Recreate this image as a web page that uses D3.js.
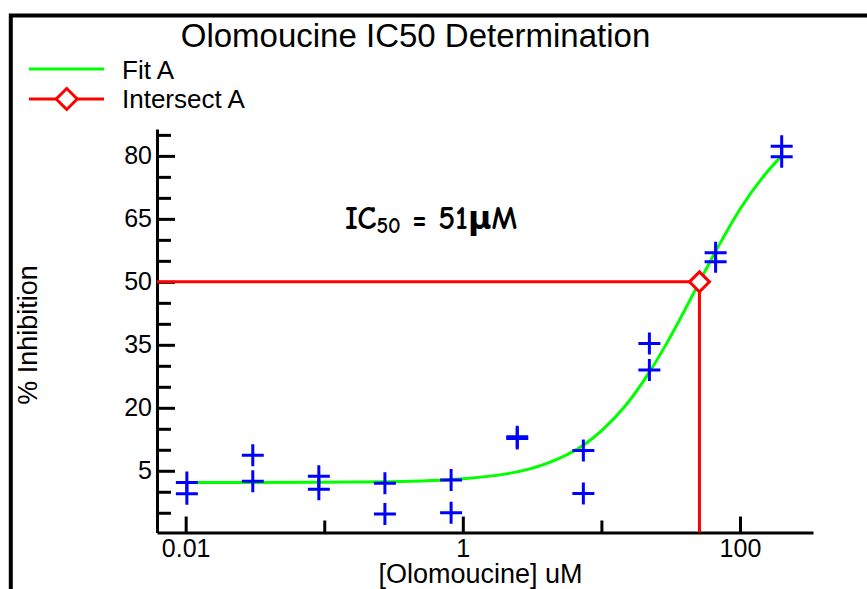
<!DOCTYPE html>
<html>
<head>
<meta charset="utf-8">
<script src="https://cdn.jsdelivr.net/npm/d3@7"></script>
<style>
  body { margin: 0; background: #fff; }
  text { font-family: Arial, "Liberation Sans", sans-serif; fill: #000; }
</style>
</head>
<body>
<script>
// measured data, two replicates per concentration (uM)
const conc = [0.0102, 0.0305, 0.0914, 0.274, 0.823, 2.47, 7.41, 22.2, 66.7, 200];
const rep1 = [2.2, 8.7, 3.7, 2.0, 2.8, 13.1, 9.8, 35.3, 56.9, 82.3];
const rep2 = [-0.5, 2.5, 0.6, -5.3, -5.0, 12.7, -0.4, 29.0, 54.8, 79.8];

// fit curve
const fitConc = [0.0102, 0.1, 0.3, 1, 2, 3, 5, 7.41, 10, 15, 22.2, 30, 40, 51, 70, 100, 150, 200];
const fitPct = [2.2, 2.26, 2.4, 3.1, 4.2, 5.4, 8.0, 11.1, 14.5, 20.6, 28.5, 35.7, 43.3, 50, 58.5, 67.3, 75.4, 80];

const ic50 = 51;
const yMajor = [5, 20, 35, 50, 65, 80];
const yMinor = [-5, 0, 10, 15, 25, 30, 40, 45, 55, 60, 70, 75, 85];
const xMajor = [0.01, 1, 100];
const xMinor = [0.1, 10];

const w = 867, h = 589;

const svg = d3.select('body').append('svg')
  .attr('width', w)
  .attr('height', h);

// outer frame (runs off the right and bottom)
svg.append('path')
  .attr('d', `M10.8,${h + 10} V15.5 H${w + 10}`)
  .attr('fill', 'none')
  .attr('stroke', '#000')
  .attr('stroke-width', 4);

const x = d3.scaleLog().domain([0.00621, 336.5]).range([157, 813]);
const y = d3.scaleLinear().domain([-9.7, 86.4]).range([532.5, 129]);

// y axis
const gy = svg.append('g').attr('transform', 'translate(157,0)');
gy.call(d3.axisLeft(y).tickValues(yMinor).tickSize(-14).tickSizeOuter(0).tickFormat(''))
  .call(g => g.select('.domain').remove());
gy.append('g')
  .call(d3.axisLeft(y).tickValues(yMajor).tickSize(-18).tickSizeOuter(0).tickPadding(5));

// x axis
const gx = svg.append('g').attr('transform', 'translate(0,532.5)');
gx.call(d3.axisBottom(x).tickValues(xMinor).tickSize(-12).tickSizeOuter(0).tickFormat(''))
  .call(g => g.select('.domain').remove());
gx.append('g')
  .call(d3.axisBottom(x).tickValues(xMajor).tickSize(-16).tickSizeOuter(0).tickPadding(7)
    .tickFormat(d => d3.format('~g')(d)));

svg.selectAll('.domain, .tick line')
  .attr('stroke', '#000')
  .attr('stroke-width', 3);
svg.selectAll('.tick text')
  .attr('font-size', 25)
  .attr('font-family', 'Arial, "Liberation Sans", sans-serif')
  .attr('fill', '#000');

// intersect lines
const xi = x(ic50), yi = y(50);
svg.append('path')
  .attr('d', `M${x.range()[0]},${yi} H${xi} V${y.range()[0]}`)
  .attr('fill', 'none')
  .attr('stroke', '#f00')
  .attr('stroke-width', 3);

// fit curve
const fit = fitConc.map((c, i) => [c, fitPct[i]]);
svg.append('path')
  .datum(fit)
  .attr('d', d3.line().x(d => x(d[0])).y(d => y(d[1])).curve(d3.curveMonotoneX))
  .attr('fill', 'none')
  .attr('stroke', '#00ff00')
  .attr('stroke-width', 3);

function diamond(sel, cx, cy, r) {
  sel.append('path')
    .attr('d', `M${cx},${cy - r} L${cx + r},${cy} L${cx},${cy + r} L${cx - r},${cy} Z`)
    .attr('fill', '#fff')
    .attr('stroke', '#f00')
    .attr('stroke-width', 3);
}
diamond(svg, xi, yi, 10);

// data points as plus signs
const pts = conc.flatMap((c, i) => [[c, rep1[i]], [c, rep2[i]]]);
svg.append('g').selectAll('path')
  .data(pts)
  .join('path')
  .attr('d', d => `M${x(d[0]) - 11},${y(d[1])} h22 M${x(d[0])},${y(d[1]) - 11} v22`)
  .attr('stroke', '#0000ff')
  .attr('stroke-width', 3)
  .attr('fill', 'none');

// title
svg.append('text')
  .attr('x', 415.5).attr('y', 46.7)
  .attr('text-anchor', 'middle')
  .attr('font-size', 33)
  .text('Olomoucine IC50 Determination');

// legend
const leg = svg.append('g');
leg.append('line')
  .attr('x1', 29).attr('x2', 104).attr('y1', 69).attr('y2', 69)
  .attr('stroke', '#00ff00').attr('stroke-width', 3);
leg.append('text').attr('x', 122).attr('y', 79).attr('font-size', 26).text('Fit A');
leg.append('line')
  .attr('x1', 29).attr('x2', 104).attr('y1', 99).attr('y2', 99)
  .attr('stroke', '#f00').attr('stroke-width', 3);
diamond(leg, 66.7, 99, 10.5);
leg.append('text').attr('x', 122).attr('y', 108.3).attr('font-size', 26).text('Intersect A');

// axis titles
svg.append('text')
  .attr('transform', 'translate(37,335) rotate(-90)')
  .attr('text-anchor', 'middle')
  .attr('font-size', 27)
  .text('% Inhibition');
svg.append('text')
  .attr('x', 480.5).attr('y', 583)
  .attr('text-anchor', 'middle')
  .attr('font-size', 27)
  .text('[Olomoucine] uM');

// IC50 annotation
const ann = svg.append('text')
  .attr('x', 345).attr('y', 229)
  .attr('font-size', 32)
  .attr('font-weight', 'bold')
  .style('font-family', '"Comic Sans MS", "Comic Neue", "DejaVu Sans", sans-serif');
ann.append('tspan').text('IC');
ann.append('tspan').attr('font-size', 22).attr('dy', 4).text('50');
ann.append('tspan').attr('dy', -4).text(' = 51\u03bcM');
</script>
</body>
</html>
